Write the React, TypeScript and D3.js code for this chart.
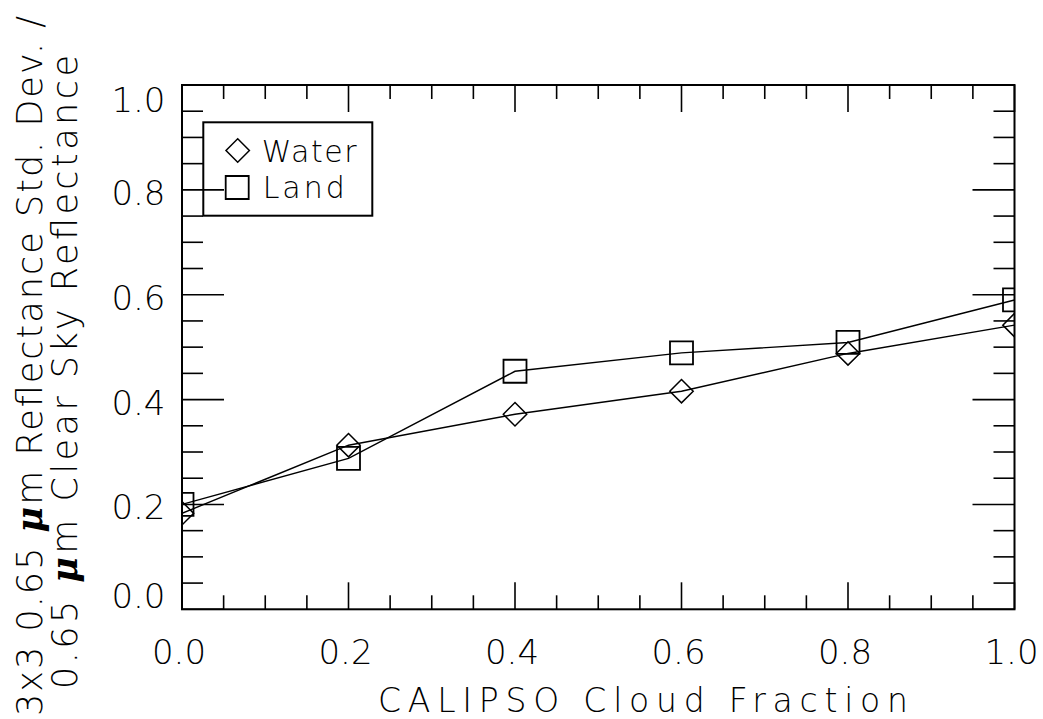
import React from "react";
import * as d3 from "d3";

// Cloud fraction bins and mean normalized reflectance variability per surface type
const cloudFraction = [0.0, 0.2, 0.4, 0.6, 0.8, 1.0];
const waterValues = [0.183, 0.313, 0.372, 0.416, 0.488, 0.542];
const landValues = [0.2, 0.288, 0.454, 0.489, 0.509, 0.59];
const majorTicks = [0.0, 0.2, 0.4, 0.6, 0.8, 1.0];
const tickLabels = ["0.0", "0.2", "0.4", "0.6", "0.8", "1.0"];
const legendNames = ["Water", "Land"];

const W = 1043;
const H = 719;
const FONT = "'DejaVu Sans', sans-serif";

export default function App() {
  const left = 182, right = 1014.5, top = 85, bottom = 609.3;
  const x = d3.scaleLinear().domain([0, 1]).range([left, right]);
  const y = d3.scaleLinear().domain([0, 1]).range([bottom, top]);
  const minorTicks = d3.range(0, 1.0001, 0.05).filter(
    (v) => !majorTicks.some((m) => Math.abs(m - v) < 1e-6)
  );

  const line = d3
    .line<number>()
    .x((_, i) => x(cloudFraction[i]))
    .y((d) => y(d));

  const hd = 11.7; // diamond half-diagonal
  const hs = 11.5; // square half-side
  const diamond = `M0,${-hd}L${hd},0L0,${hd}L${-hd},0Z`;
  const square = `M${-hs},${-hs}H${hs}V${hs}H${-hs}Z`;

  // keep the end labels of the y axis inside the frame
  const yLabelPos = (v: number) =>
    Math.min(Math.max(y(v) + 3, top + 15), bottom - 13);

  const xMajorLen = 27, xMinorLen = 14, yMajorLen = 42, yMinorLen = 21;

  return (
    <svg
      width={W}
      height={H}
      style={{ position: "absolute", left: 0, top: 0, background: "#fff" }}
      fontFamily={FONT}
    >
      <defs>
        <clipPath id="plotClip">
          <rect x={left} y={top} width={right - left} height={bottom - top} />
        </clipPath>
      </defs>
      <rect width={W} height={H} fill="#fff" />

      {/* ticks on all four sides */}
      <g stroke="#000" strokeWidth={1.6}>
        {majorTicks.map((v) => (
          <g key={"M" + v}>
            <line x1={x(v)} x2={x(v)} y1={bottom} y2={bottom - xMajorLen} />
            <line x1={x(v)} x2={x(v)} y1={top} y2={top + xMajorLen} />
            <line x1={left} x2={left + yMajorLen} y1={y(v)} y2={y(v)} />
            <line x1={right} x2={right - yMajorLen} y1={y(v)} y2={y(v)} />
          </g>
        ))}
        {minorTicks.map((v) => (
          <g key={"m" + v}>
            <line x1={x(v)} x2={x(v)} y1={bottom} y2={bottom - xMinorLen} />
            <line x1={x(v)} x2={x(v)} y1={top} y2={top + xMinorLen} />
            <line x1={left} x2={left + yMinorLen} y1={y(v)} y2={y(v)} />
            <line x1={right} x2={right - yMinorLen} y1={y(v)} y2={y(v)} />
          </g>
        ))}
      </g>

      {/* series */}
      <g clipPath="url(#plotClip)" fill="none" stroke="#000">
        <path d={line(waterValues) || ""} strokeWidth={1.4} />
        <path d={line(landValues) || ""} strokeWidth={1.4} />
        {waterValues.map((v, i) => (
          <path
            key={"w" + i}
            d={diamond}
            transform={`translate(${x(cloudFraction[i])},${y(v)})`}
            strokeWidth={1.5}
          />
        ))}
        {landValues.map((v, i) => (
          <path
            key={"l" + i}
            d={square}
            transform={`translate(${x(cloudFraction[i])},${y(v)})`}
            strokeWidth={1.8}
          />
        ))}
      </g>

      {/* frame */}
      <rect
        x={left}
        y={top}
        width={right - left}
        height={bottom - top}
        fill="none"
        stroke="#000"
        strokeWidth={2}
      />

      {/* tick labels */}
      <g fontSize={34} fill="#000" fontWeight={200}>
        {majorTicks.map((v, i) => (
          <text
            key={"xl" + v}
            x={x(v) - 3}
            y={651.5}
            textAnchor="middle"
            dominantBaseline="central"
          >
            {tickLabels[i]}
          </text>
        ))}
        {majorTicks.map((v, i) => (
          <text
            key={"yl" + v}
            x={165.5}
            y={yLabelPos(v)}
            textAnchor="end"
            dominantBaseline="central"
          >
            {tickLabels[i]}
          </text>
        ))}
      </g>

      {/* axis titles */}
      <text
        x={378}
        y={711.7}
        fontSize={33}
        fontWeight={200}
        textLength={530}
        lengthAdjust="spacing"
      >
        CALIPSO Cloud Fraction
      </text>
      <g fontSize={35} fontWeight={200}>
        <text
          transform="translate(42,716) rotate(-90)"
          textLength={700}
          lengthAdjust="spacing"
        >
          3x3 0.65{" "}
          <tspan fontStyle="italic" fontWeight={700} fontFamily="'DejaVu Serif', serif">
            μ
          </tspan>
          m Reflectance Std. Dev. /
        </text>
        <text
          transform="translate(77,689) rotate(-90)"
          textLength={634}
          lengthAdjust="spacing"
        >
          0.65{" "}
          <tspan fontStyle="italic" fontWeight={700} fontFamily="'DejaVu Serif', serif">
            μ
          </tspan>
          m Clear Sky Reflectance
        </text>
      </g>

      {/* legend */}
      <rect
        x={203.3}
        y={122.3}
        width={169}
        height={93.4}
        fill="none"
        stroke="#000"
        strokeWidth={2}
      />
      <path d={diamond} transform="translate(237.7,150.5)" fill="none" stroke="#000" strokeWidth={1.5} />
      <path d={square} transform="translate(237.2,187.5)" fill="#fff" stroke="#000" strokeWidth={1.8} />
      <g fontSize={30} fontWeight={200}>
        <text x={261.7} y={161.7} textLength={95} lengthAdjust="spacing">
          {legendNames[0]}
        </text>
        <text x={262.7} y={198.3} textLength={82} lengthAdjust="spacing">
          {legendNames[1]}
        </text>
      </g>
    </svg>
  );
}
